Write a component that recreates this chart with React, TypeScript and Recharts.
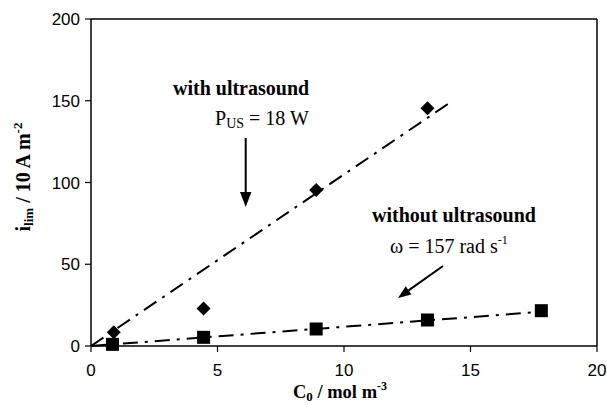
import { ComposedChart, XAxis, YAxis, Line, Scatter, ReferenceLine } from 'recharts';

// measured values (C0 in mol m^-3, i_lim in 10 A m^-2)
const concWithUS = [0.9, 4.45, 8.9, 13.3];
const currentWithUS = [8.4, 23, 95.4, 145.4];
const concSilent = [0.85, 4.45, 8.9, 13.3, 17.8];
const currentSilent = [1, 5.3, 10.4, 15.9, 21.6];

// linear fits, drawn as dash-dot lines
const fitWithUSX = [0, 14.2];
const fitWithUSY = [0, 149];
const fitSilentX = [0, 17.6];
const fitSilentY = [0, 20.7];

const xTicks = [0, 5, 10, 15, 20];
const yTicks = [0, 50, 100, 150, 200];

const toRows = (xs: number[], ys: number[]) => xs.map((x, i) => ({ x, y: ys[i] }));

const W = 607;
const H = 405;
const serif = '"Liberation Serif", "Times New Roman", serif';
const sans = '"Liberation Sans", Arial, sans-serif';
const dashDot = '15 7 3 7';

const Diamond = (p: any) => {
  const { cx, cy } = p;
  const r = 7;
  return <polygon points={`${cx},${cy - r} ${cx + r},${cy} ${cx},${cy + r} ${cx - r},${cy}`} fill="#000" />;
};

const Square = (p: any) => {
  const { cx, cy } = p;
  const s = 13;
  return <rect x={cx - s / 2} y={cy - s / 2} width={s} height={s} fill="#000" />;
};

function Annotations() {
  return (
    <svg width={W} height={H} style={{ position: 'absolute', left: 0, top: 0, pointerEvents: 'none' }}>
      <g fontFamily={serif} fill="#000">
        <text x={173} y={95} fontSize={20} fontWeight="bold">with ultrasound</text>
        <text x={215} y={125} fontSize={20}>
          P<tspan fontSize={14} dy={3}>US</tspan>
          <tspan dy={-3}> = 18 W</tspan>
        </text>
        <text x={372} y={222} fontSize={20} fontWeight="bold">without ultrasound</text>
        <text x={390} y={253} fontSize={20}>
          ω = 157 rad s<tspan fontSize={12} dy={-9}>-1</tspan>
        </text>

        {/* y axis title */}
        <text transform="translate(30,177) rotate(-90)" textAnchor="middle" fontSize={20} fontWeight="bold">
          i<tspan fontSize={13} dy={3}>lim</tspan>
          <tspan dy={-3}> / 10 A m</tspan>
          <tspan fontSize={13} dy={-8}>-2</tspan>
        </text>
        {/* x axis title */}
        <text x={340} y={398} textAnchor="middle" fontSize={18.5} fontWeight="bold">
          C<tspan fontSize={13} dy={3}>0</tspan>
          <tspan dy={-3}> / mol m</tspan>
          <tspan fontSize={12} dy={-8}>-3</tspan>
        </text>
      </g>

      {/* arrows */}
      <line x1={245.7} y1={138} x2={245.7} y2={194} stroke="#000" strokeWidth={2} />
      <polygon points="240,192 251.4,192 245.7,207" fill="#000" />
      <line x1={443} y1={266} x2={408.6} y2={290.4} stroke="#000" strokeWidth={2} />
      <polygon points="411.5,294.5 405.7,286.3 398,298" fill="#000" />
    </svg>
  );
}

export default function App() {
  return (
    <div style={{ position: 'absolute', left: 0, top: 0, width: W, height: H, background: '#fff' }}>
      <ComposedChart width={W} height={H} margin={{ top: 19, right: 10, bottom: 29, left: 31 }}>
        <XAxis
          type="number"
          dataKey="x"
          domain={[0, 20]}
          ticks={xTicks}
          allowDuplicatedCategory={false}
          height={30}
          tickSize={6}
          tickMargin={12}
          axisLine={{ stroke: '#000', strokeWidth: 1.5 }}
          tickLine={{ stroke: '#000', strokeWidth: 1.2 }}
          tick={{ fill: '#000', fontSize: 17, fontFamily: sans }}
        />
        <YAxis
          type="number"
          dataKey="y"
          domain={[0, 200]}
          ticks={yTicks}
          width={60}
          tickSize={6}
          tickMargin={5}
          axisLine={{ stroke: '#000', strokeWidth: 1.5 }}
          tickLine={{ stroke: '#000', strokeWidth: 1.2 }}
          tick={{ fill: '#000', fontSize: 17, fontFamily: sans }}
        />
        <ReferenceLine y={200} stroke="#000" strokeWidth={1.5} />
        <ReferenceLine x={20} stroke="#000" strokeWidth={1.5} />

        <Line
          data={toRows(fitWithUSX, fitWithUSY)}
          dataKey="y"
          stroke="#000"
          strokeWidth={2}
          strokeDasharray={dashDot}
          dot={false}
          isAnimationActive={false}
        />
        <Line
          data={toRows(fitSilentX, fitSilentY)}
          dataKey="y"
          stroke="#000"
          strokeWidth={2}
          strokeDasharray={dashDot}
          dot={false}
          isAnimationActive={false}
        />
        <Scatter data={toRows(concWithUS, currentWithUS)} dataKey="y" shape={Diamond} isAnimationActive={false} />
        <Scatter data={toRows(concSilent, currentSilent)} dataKey="y" shape={Square} isAnimationActive={false} />
      </ComposedChart>
      <Annotations />
    </div>
  );
}
